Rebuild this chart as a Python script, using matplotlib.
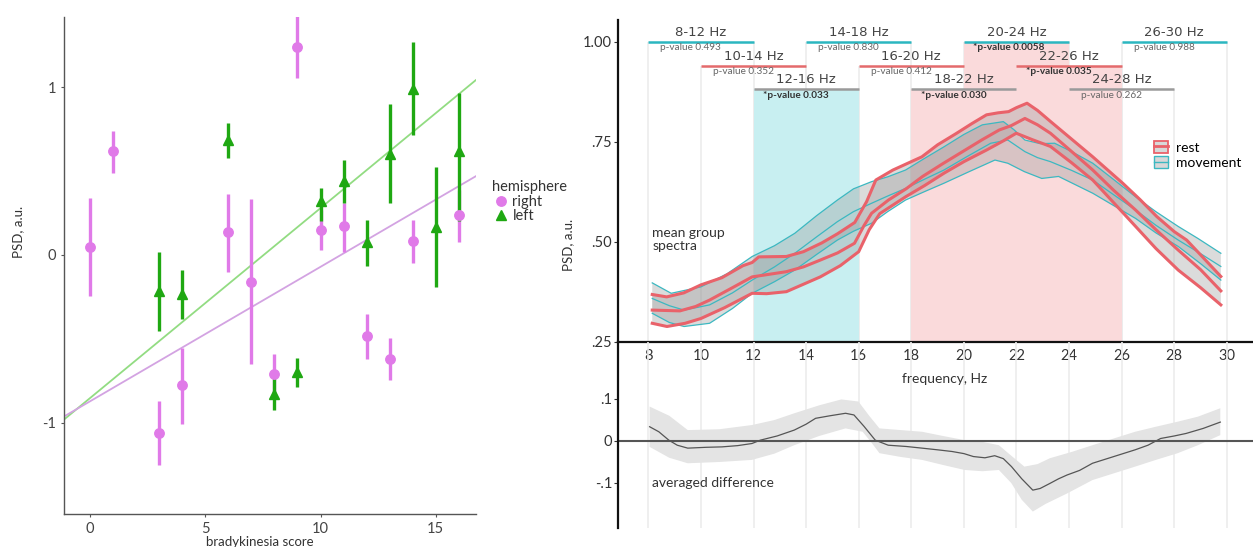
#!/usr/bin/env python
# -*- coding: utf-8 -*-

import numpy as np
import matplotlib
matplotlib.use('Agg')
from matplotlib import pyplot as plt
from matplotlib.patches import Patch
from matplotlib.lines import Line2D

plt.rcParams['font.family'] = ['Lato', 'DejaVu Sans']

# ---- left panel: PSD vs bradykinesia score ----
score_right = [0, 1, 3, 4, 6, 7, 8, 9, 10, 11, 12, 13, 14, 16]
psd_right = [0.046, 0.62, -1.06, -0.775, 0.134, -0.163, -0.712, 1.242, 0.146, 0.171, -0.486, -0.618, 0.081, 0.238]
psd_right_lo = [-0.246, 0.49, -1.255, -1.008, -0.10, -0.653, -0.841, 1.054, 0.031, 0.015, -0.622, -0.747, -0.048, 0.077]
psd_right_hi = [0.338, 0.74, -0.873, -0.553, 0.365, 0.332, -0.591, 1.50, 0.265, 0.311, -0.355, -0.493, 0.209, 0.39]

score_left = [3, 4, 6, 8, 9, 10, 11, 12, 13, 14, 15, 16]
psd_left = [-0.215, -0.23, 0.683, -0.827, -0.70, 0.32, 0.443, 0.077, 0.603, 0.992, 0.167, 0.62]
psd_left_lo = [-0.455, -0.382, 0.578, -0.925, -0.785, 0.20, 0.311, -0.065, 0.307, 0.714, -0.194, 0.20]
psd_left_hi = [0.019, -0.09, 0.787, -0.733, -0.616, 0.40, 0.568, 0.209, 0.898, 1.267, 0.522, 0.965]

fit_right = [0.0802, -0.873]   # slope, intercept
fit_left = [0.1133, -0.854]

# ---- right panel: group spectra ----
rest_up_f = [8.15, 8.7, 9.35, 10.0, 10.8, 11.6, 11.95, 12.2, 13.25, 13.9, 14.6, 15.2, 15.85, 16.3, 16.65, 17.3, 18.4, 19.0, 19.7, 20.3, 20.86, 21.3, 21.7, 22.0, 22.4, 22.8, 23.3, 24.1, 24.9, 26.04, 26.7, 27.33, 28.0, 28.47, 29.1, 29.77]
rest_up_v = [0.368, 0.362, 0.372, 0.392, 0.41, 0.44, 0.448, 0.462, 0.463, 0.475, 0.497, 0.52, 0.548, 0.60, 0.654, 0.679, 0.712, 0.742, 0.77, 0.795, 0.817, 0.822, 0.825, 0.835, 0.846, 0.828, 0.80, 0.756, 0.712, 0.646, 0.605, 0.563, 0.525, 0.504, 0.46, 0.413]
rest_mean_f = [8.15, 9.2, 9.8, 10.33, 11.2, 11.95, 13.25, 13.9, 14.54, 15.2, 15.84, 16.2, 16.49, 17.13, 17.8, 18.43, 19.2, 20.05, 20.7, 21.34, 21.8, 22.32, 22.8, 23.29, 24.1, 24.9, 25.7, 26.53, 27.3, 28.15, 29.0, 29.77]
rest_mean_v = [0.329, 0.327, 0.338, 0.354, 0.385, 0.412, 0.425, 0.437, 0.454, 0.472, 0.496, 0.54, 0.571, 0.604, 0.632, 0.663, 0.695, 0.729, 0.755, 0.779, 0.79, 0.808, 0.792, 0.771, 0.725, 0.679, 0.628, 0.579, 0.53, 0.479, 0.43, 0.377]
rest_lo_f = [8.15, 8.71, 9.4, 10.0, 10.9, 11.95, 12.5, 13.25, 14.54, 15.3, 16.0, 16.4, 16.8, 17.78, 18.5, 19.24, 20.0, 20.86, 21.5, 21.99, 22.6, 23.29, 24.1, 24.9, 25.7, 26.53, 27.3, 28.15, 29.0, 29.77]
rest_lo_v = [0.296, 0.288, 0.296, 0.308, 0.335, 0.371, 0.37, 0.375, 0.412, 0.44, 0.475, 0.53, 0.57, 0.612, 0.64, 0.671, 0.70, 0.729, 0.752, 0.771, 0.755, 0.738, 0.697, 0.654, 0.597, 0.538, 0.483, 0.429, 0.385, 0.342]

mov_up_f = [8.15, 8.87, 10.0, 11.0, 11.95, 12.8, 13.57, 14.4, 15.19, 15.8, 16.49, 17.1, 17.78, 18.5, 19.24, 20.0, 20.7, 21.5, 21.9, 22.32, 22.9, 23.45, 24.1, 24.9, 25.7, 26.53, 27.3, 28.15, 28.9, 29.77]
mov_up_v = [0.397, 0.371, 0.387, 0.42, 0.463, 0.49, 0.521, 0.565, 0.604, 0.632, 0.650, 0.662, 0.679, 0.708, 0.737, 0.768, 0.792, 0.80, 0.78, 0.754, 0.745, 0.746, 0.725, 0.696, 0.655, 0.612, 0.575, 0.538, 0.508, 0.471]
mov_mean_f = [8.15, 8.8, 9.36, 10.33, 11.2, 11.95, 12.8, 13.57, 14.4, 15.19, 15.8, 16.49, 17.1, 17.78, 18.5, 19.24, 20.1, 21.02, 21.67, 22.32, 22.8, 23.29, 24.1, 24.9, 25.7, 26.53, 27.3, 28.15, 29.0, 29.77]
mov_mean_v = [0.358, 0.34, 0.329, 0.342, 0.372, 0.404, 0.437, 0.471, 0.512, 0.55, 0.575, 0.596, 0.614, 0.633, 0.656, 0.679, 0.712, 0.746, 0.754, 0.725, 0.71, 0.70, 0.678, 0.654, 0.617, 0.579, 0.541, 0.504, 0.47, 0.438]
mov_lo_f = [8.15, 8.8, 9.36, 10.33, 11.2, 11.95, 12.8, 13.57, 14.4, 15.19, 15.8, 16.49, 17.1, 17.78, 18.5, 19.24, 20.2, 21.18, 21.67, 22.3, 22.96, 23.6, 24.9, 25.7, 26.53, 27.3, 28.15, 29.0, 29.77]
mov_lo_v = [0.321, 0.298, 0.288, 0.296, 0.333, 0.371, 0.40, 0.429, 0.468, 0.504, 0.526, 0.546, 0.575, 0.604, 0.625, 0.646, 0.675, 0.704, 0.696, 0.675, 0.658, 0.663, 0.621, 0.59, 0.558, 0.522, 0.488, 0.445, 0.404]

# averaged difference (movement - rest)
diff_f = [8.05, 8.4, 8.78, 9.1, 9.5, 10.2, 10.8, 11.4, 11.94, 12.26, 12.9, 13.55, 14.0, 14.36, 14.9, 15.5, 15.82, 16.2, 16.63, 17.12, 17.8, 18.41, 19.0, 19.55, 20.0, 20.36, 20.8, 21.17, 21.5, 21.81, 22.2, 22.62, 22.9, 23.27, 23.6, 23.92, 24.4, 24.89, 25.7, 26.51, 27.0, 27.48, 28.0, 28.45, 29.1, 29.75]
diff_v = [0.034, 0.022, 0.002, -0.01, -0.017, -0.015, -0.014, -0.011, -0.006, 0.002, 0.012, 0.026, 0.04, 0.054, 0.06, 0.066, 0.062, 0.035, 0.002, -0.010, -0.013, -0.017, -0.021, -0.025, -0.03, -0.037, -0.04, -0.035, -0.042, -0.061, -0.09, -0.117, -0.113, -0.101, -0.09, -0.081, -0.07, -0.053, -0.037, -0.021, -0.01, 0.006, 0.012, 0.018, 0.03, 0.045]
diff_up_f = [8.05, 8.8, 9.5, 10.7, 11.94, 12.8, 13.55, 14.5, 15.34, 15.99, 16.4, 16.79, 17.6, 18.41, 19.2, 20.03, 20.7, 21.33, 21.8, 22.3, 22.8, 23.27, 24.1, 24.89, 25.7, 26.51, 27.3, 28.13, 28.9, 29.75]
diff_up_v = [0.082, 0.06, 0.026, 0.028, 0.038, 0.05, 0.066, 0.085, 0.099, 0.094, 0.06, 0.030, 0.026, 0.022, 0.012, 0.002, -0.002, -0.010, -0.035, -0.061, -0.055, -0.041, -0.026, -0.010, 0.006, 0.022, 0.034, 0.046, 0.058, 0.078]
diff_lo_f = [8.05, 8.8, 9.5, 10.7, 11.94, 12.8, 13.55, 14.5, 15.5, 16.15, 16.5, 16.79, 17.6, 18.41, 19.2, 20.03, 20.7, 21.33, 21.8, 22.2, 22.62, 23.1, 23.92, 24.89, 25.7, 26.51, 27.3, 28.13, 28.9, 29.75]
diff_lo_v = [-0.014, -0.04, -0.053, -0.05, -0.045, -0.03, -0.010, 0.012, 0.030, 0.022, -0.005, -0.029, -0.038, -0.045, -0.057, -0.069, -0.072, -0.069, -0.10, -0.14, -0.168, -0.15, -0.125, -0.093, -0.077, -0.061, -0.045, -0.029, -0.01, 0.014]

band_start = [8, 10, 12, 14, 16, 18, 20, 22, 24, 26]
band_pval = ['0.493', '0.352', '0.033', '0.830', '0.412', '0.030', '0.0058', '0.035', '0.262', '0.988']

W, H = 1253, 547
fig = plt.figure(figsize=(W / 100, H / 100), dpi=100)

def fx(px):
    return px / W

def fy(py):
    return 1 - py / H

pink = '#e07ae8'
green = '#1fa812'

# ---------------- left panel ----------------
ax = fig.add_axes([fx(64.3), fy(514.3), fx(475.7 - 64.3), (514.3 - 16.7) / H])
ax.set_xlim(-1.11, 16.73)
ax.set_ylim(-1.546, 1.42)
xs = np.array(ax.get_xlim())
ax.plot(xs, np.polyval(fit_left, xs), color='#92dc82', lw=1.3, zorder=1)
ax.plot(xs, np.polyval(fit_right, xs), color='#d3a3e2', lw=1.3, zorder=1)
ax.vlines(score_right, psd_right_lo, psd_right_hi, color=pink, lw=2.4, zorder=2)
ax.plot(score_right, psd_right, 'o', color=pink, ms=6.8, zorder=3, label='right')
ax.vlines(score_left, psd_left_lo, psd_left_hi, color=green, lw=2.4, zorder=2)
ax.plot(score_left, psd_left, '^', color=green, ms=7.5, zorder=3, label='left')
ax.set_xticks([0, 5, 10, 15])
ax.set_yticks([-1, 0, 1])
ax.set_yticklabels(['-1', '0', '1'])
for s in ['top', 'right']:
    ax.spines[s].set_visible(False)
for s in ['left', 'bottom']:
    ax.spines[s].set_color('#555555')
    ax.spines[s].set_linewidth(1.0)
ax.tick_params(colors='#555555', labelcolor='#444444', labelsize=10.5, length=2.5, width=0.8)
ax.tick_params(axis='x', pad=3)
fig.text(fx(18), fy(232), 'PSD, a.u.', rotation=90, ha='center', va='center',
         fontsize=9.5, color='#333333')
fig.text(fx(260), fy(542), 'bradykinesia score', ha='center', va='center',
         fontsize=9.5, color='#333333')
leg = ax.legend(title='hemisphere', loc='upper left', bbox_to_anchor=(fx(492), fy(180)),
                bbox_transform=fig.transFigure, frameon=False, fontsize=10.5,
                title_fontsize=10.5, handletextpad=0.2, handlelength=1.2,
                labelspacing=0.05, borderpad=0, borderaxespad=0)
leg._legend_box.align = 'left'
for t in leg.get_texts():
    t.set_color('#333333')
leg.get_title().set_color('#333333')

# ---------------- right panel, spectra ----------------
x8, px_hz = 648.3, 26.3
ax2 = fig.add_axes([fx(617.7), fy(341.7), fx(W - 617.7), (341.7 - 20) / H])
ax2.set_xlim(8 - (x8 - 617.7) / px_hz, 8 + (W - x8) / px_hz)
ax2.set_ylim(0.25, 1.054)

levels = [1.0, 0.94, 0.881]
bar_cols = ['#2bb6c0', '#e46a6c', '#9a9a9a']
grid_f = np.arange(8, 31, 0.5)
diff_band = np.interp(grid_f, diff_f, diff_v)
for i, s in enumerate(band_start):
    e = s + 4
    lev = levels[i % 3]
    ax2.vlines([s, e], 0.25, lev, color='#ececec', lw=1.2, zorder=0)
    sig = float(band_pval[i]) < 0.05
    if sig:
        m = diff_band[(grid_f >= s) & (grid_f <= e)].mean()
        fc = '#c8eff1' if m > 0 else '#fadadb'
        ax2.fill_between([s, e], 0.25, lev, color=fc, lw=0, zorder=0.5)
    ax2.plot([s, e], [lev, lev], color=bar_cols[i % 3], lw=1.8, zorder=3,
             solid_capstyle='butt')
    ax2.text((s + e) / 2, lev + 0.007, '%d-%d Hz' % (s, e), ha='center', va='bottom',
             fontsize=9.5, color='#444444', family=['Liberation Sans Narrow', 'DejaVu Sans'],
             zorder=4)
    if sig:
        ax2.text(s + 0.35, lev - 0.004, '*p-value ' + band_pval[i], ha='left', va='top',
                 fontsize=7.2, color='#333333', fontweight='bold', zorder=4)
    else:
        ax2.text(s + 0.45, lev - 0.004, 'p-value ' + band_pval[i], ha='left', va='top',
                 fontsize=7.2, color='#666666', zorder=4)

red = '#e9626a'
teal = '#3cb8c1'
ax2.fill(np.concatenate([mov_up_f, mov_lo_f[::-1]]), np.concatenate([mov_up_v, mov_lo_v[::-1]]),
         color='#9a9a9a', alpha=0.35, lw=0, zorder=1)
ax2.fill(np.concatenate([rest_up_f, rest_lo_f[::-1]]), np.concatenate([rest_up_v, rest_lo_v[::-1]]),
         color='#9a9a9a', alpha=0.35, lw=0, zorder=1)
for f, v in [(mov_up_f, mov_up_v), (mov_mean_f, mov_mean_v), (mov_lo_f, mov_lo_v)]:
    ax2.plot(f, v, color=teal, lw=0.9, zorder=2)
for f, v in [(rest_up_f, rest_up_v), (rest_mean_f, rest_mean_v), (rest_lo_f, rest_lo_v)]:
    ax2.plot(f, v, color=red, lw=2.2, zorder=2.5, solid_joinstyle='round')

ax2.set_xticks(range(8, 31, 2))
ax2.set_yticks([0.25, 0.5, 0.75, 1.0])
ax2.set_yticklabels(['.25', '.50', '.75', '1.00'])
for s in ['top', 'right']:
    ax2.spines[s].set_visible(False)
for s in ['left', 'bottom']:
    ax2.spines[s].set_color('#111111')
    ax2.spines[s].set_linewidth(1.6)
ax2.tick_params(axis='y', colors='#333333', labelsize=10.5, length=3, width=0.8, pad=1)
ax2.tick_params(axis='x', colors='#333333', labelsize=10.5, length=0, pad=5)
fig.text(fx(568), fy(245), 'PSD, a.u.', rotation=90, ha='center', va='center',
         fontsize=9.5, color='#333333')
fig.text(fx(945), fy(379), 'frequency, Hz', ha='center', va='center',
         fontsize=10, color='#333333')
ax2.text(8.15, 0.505, 'mean group\nspectra', ha='left', va='center', fontsize=10,
         color='#333333', linespacing=1.1)

hrest = (Patch(facecolor='#d8d8d8', edgecolor=red, lw=1.3), Line2D([], [], color=red, lw=2))
hmov = (Patch(facecolor='#d8d8d8', edgecolor=teal, lw=1), Line2D([], [], color=teal, lw=1))
ax2.legend([hrest, hmov], ['rest', 'movement'], loc='upper left',
           bbox_to_anchor=(fx(1154), fy(141)), bbox_transform=fig.transFigure,
           frameon=False, fontsize=10, handlelength=1.0, handleheight=1.0,
           handletextpad=0.6, labelspacing=0.15, borderpad=0, borderaxespad=0)

# ---------------- right panel, difference ----------------
ax3 = fig.add_axes([fx(617.7), fy(528.3), fx(W - 617.7), (528.3 - 341.7) / H])
ax3.set_xlim(ax2.get_xlim())
ax3.set_ylim(-(528.3 - 441) / 420, (441 - 341.7) / 420)
ax3.patch.set_alpha(0)
ax3.vlines(range(8, 31, 2), ax3.get_ylim()[0], ax3.get_ylim()[1], color='#ececec',
           lw=1.2, zorder=0)
ax3.fill(np.concatenate([diff_up_f, diff_lo_f[::-1]]), np.concatenate([diff_up_v, diff_lo_v[::-1]]),
         color='#e4e4e4', lw=0, zorder=1)
ax3.axhline(0, color='#555555', lw=1.5, zorder=2)
ax3.plot(diff_f, diff_v, color='#555555', lw=0.9, zorder=3)
ax3.set_xticks([])
ax3.set_yticks([-0.1, 0, 0.1])
ax3.set_yticklabels(['-.1', '0', '.1'])
for s in ['top', 'right', 'bottom']:
    ax3.spines[s].set_visible(False)
ax3.spines['left'].set_color('#111111')
ax3.spines['left'].set_linewidth(1.6)
ax3.tick_params(axis='y', colors='#333333', labelsize=10.5, length=3, width=0.8, pad=1)
ax3.text(8.15, -0.1, 'averaged difference', ha='left', va='center', fontsize=10,
         color='#333333')

fig.savefig('out.png', dpi=100)
